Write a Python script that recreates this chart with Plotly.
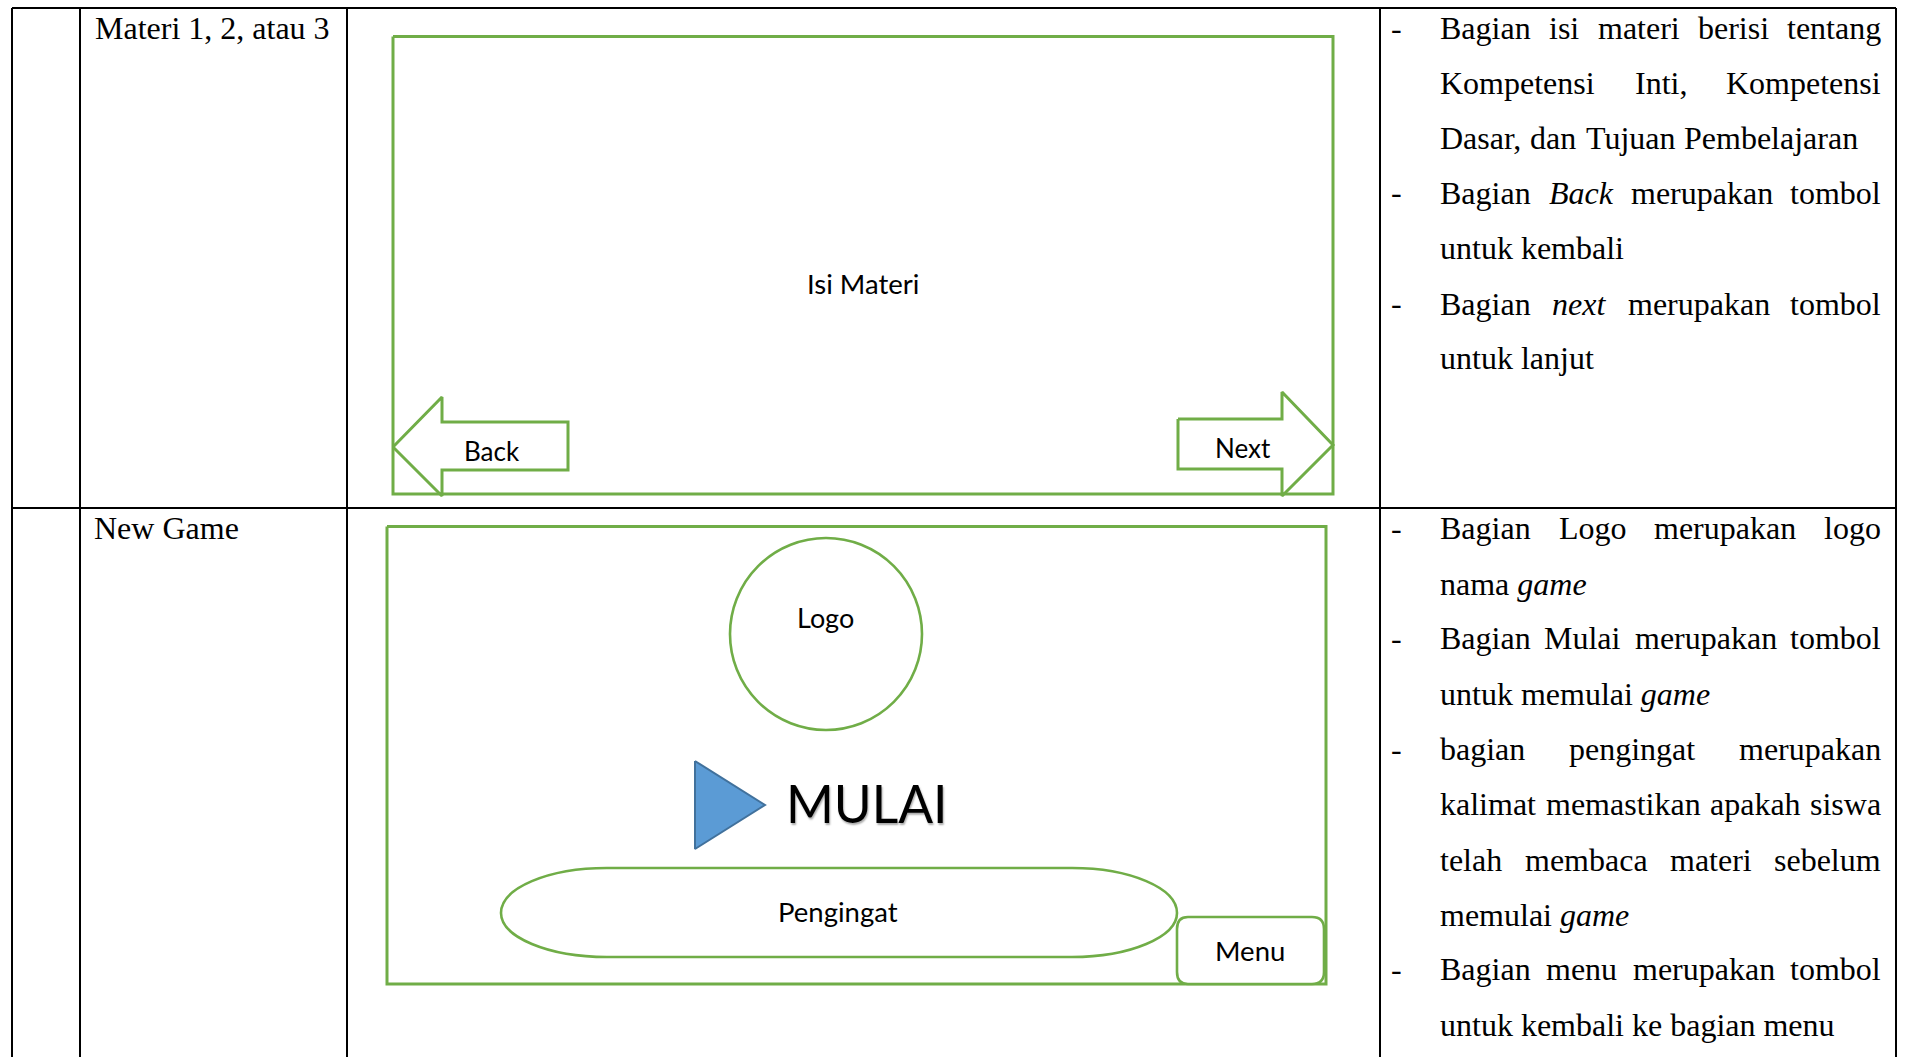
import plotly.graph_objects as go

BLACK = "#000000"
GREEN = "#70AD47"
SERIF = "Liberation Serif"
SANS = "Lato"

# table rules
table_cols = [12, 80, 347, 1380, 1896]
table_top = 8
table_row = 508
table_bottom = 1057

# wireframe outlines
frame_a = ([393, 1333, 1333, 393, 393], [36.5, 36.5, 494, 494, 36.5])
frame_b = ([387, 1326, 1326, 387, 387], [526.5, 526.5, 984, 984, 526.5])
back_arrow = ([393, 442, 442, 568, 568, 442, 442, 393], [447, 397, 422, 422, 470, 470, 496, 447])
next_arrow = ([1178, 1282, 1282, 1333, 1282, 1282, 1178, 1178], [419, 419, 392, 445, 496, 469, 469, 419])
play_triangle = ([695, 765, 695, 695], [761, 805, 849, 761])
logo_circle = (730, 538, 922, 730)
pill_path = "M 607 868 L 1072 868 C 1130 868 1177 888 1177 913 C 1177 937 1130 957 1072 957 L 607 957 C 548 957 501 937 501 913 C 501 888 548 868 607 868 Z"
menu_path = "M 1188 917 L 1312 917 Q 1324 917 1324 929 L 1324 972 Q 1324 984 1312 984 L 1188 984 Q 1177 984 1177 972 L 1177 929 Q 1177 917 1188 917 Z"

# labels inside the wireframes: text, x, y, size
sans_labels = [
    ("Isi Materi", 863, 283, 27.5),
    ("Back", 492, 451, 26),
    ("Next", 1243, 448, 26),
    ("Logo", 825, 617, 27),
    ("Pengingat", 838, 911, 27.5),
    ("Menu", 1250, 950, 27.5),
]
mulai_label = ("MULAI", 866, 803, 51.5)

# row titles
row_titles = [("Materi 1, 2, atau 3", 92.5, 27.5), ("New Game", 92, 528)]

# description column, line by line: y, then (x, anchor, word)
L = 1438
R = 1883
desc_lines = [
    (27.5, [(L, "left", "Bagian"), (1564, "center", "isi"), (1638.5, "center", "materi"), (1733.5, "center", "berisi"), (R, "right", "tentang")]),
    (82.5, [(L, "left", "Kompetensi"), (1660.6, "center", "Inti,"), (R, "right", "Kompetensi")]),
    (137.5, [(L, "left", "Dasar,"), (1553, "center", "dan"), (1631, "center", "Tujuan"), (1860, "right", "Pembelajaran")]),
    (192.5, [(L, "left", "Bagian"), (1581, "center", "<i>Back</i>"), (1701.6, "center", "merupakan"), (R, "right", "tombol")]),
    (247.5, [(L, "left", "untuk kembali")]),
    (303.5, [(L, "left", "Bagian"), (1579, "center", "<i>next</i>"), (1699, "center", "merupakan"), (R, "right", "tombol")]),
    (358, [(L, "left", "untuk lanjut")]),
    (528, [(L, "left", "Bagian"), (1592.5, "center", "Logo"), (1725, "center", "merupakan"), (R, "right", "logo")]),
    (583.5, [(L, "left", "nama <i>game</i>")]),
    (638, [(L, "left", "Bagian"), (1582, "center", "Mulai"), (1706, "center", "merupakan"), (R, "right", "tombol")]),
    (693.5, [(L, "left", "untuk memulai <i>game</i>")]),
    (749, [(L, "left", "bagian"), (1632, "center", "pengingat"), (R, "right", "merupakan")]),
    (803.5, [(L, "left", "kalimat"), (1623, "center", "memastikan"), (1755, "center", "apakah"), (R, "right", "siswa")]),
    (859.5, [(L, "left", "telah"), (1586, "center", "membaca"), (1711, "center", "materi"), (R, "right", "sebelum")]),
    (914.5, [(L, "left", "memulai <i>game</i>")]),
    (969, [(L, "left", "Bagian"), (1581.5, "center", "menu"), (1704, "center", "merupakan"), (R, "right", "tombol")]),
    (1024.5, [(L, "left", "untuk kembali ke bagian menu")]),
]
dash_ys = [27.5, 192, 303, 528, 638, 749, 969]
dash_x = 1396

fig = go.Figure()

for outline in (frame_a, frame_b, back_arrow, next_arrow):
    fig.add_trace(go.Scatter(x=outline[0], y=outline[1], mode="lines",
                             line=dict(color=GREEN, width=3), hoverinfo="skip"))
fig.add_trace(go.Scatter(x=play_triangle[0], y=play_triangle[1], mode="lines", fill="toself",
                         fillcolor="#5B9BD5", line=dict(color="#41719C", width=2), hoverinfo="skip"))

shapes = []
for x in table_cols:
    shapes.append(dict(type="line", x0=x, x1=x, y0=table_top, y1=table_bottom,
                       line=dict(color=BLACK, width=2)))
for y in (table_top, table_row):
    shapes.append(dict(type="line", x0=table_cols[0], x1=table_cols[-1], y0=y, y1=y,
                       line=dict(color=BLACK, width=2)))
shapes.append(dict(type="circle", x0=logo_circle[0], y0=logo_circle[1], x1=logo_circle[2], y1=logo_circle[3],
                   line=dict(color=GREEN, width=2.6)))
for p in (pill_path, menu_path):
    shapes.append(dict(type="path", path=p, line=dict(color=GREEN, width=2.6), fillcolor="white"))

ann = []
def text(x, y, s, anchor, family, size, **font):
    ann.append(dict(x=x, y=y, text=s, xanchor=anchor, yanchor="middle", showarrow=False,
                    font=dict(family=family, size=size, color=BLACK, **font), xref="x", yref="y"))

for s, x, y, size in sans_labels:
    text(x, y, s, "center", SANS, size)
text(mulai_label[1], mulai_label[2], mulai_label[0], "center", SANS, mulai_label[3], shadow="1px 2px 2px #aaaaaa")
for s, x, y in row_titles:
    text(x, y, s, "left", SERIF, 32)
for y, words in desc_lines:
    for x, anchor, w in words:
        text(x, y, w, anchor, SERIF, 32)
for y in dash_ys:
    text(dash_x, y, "-", "center", SERIF, 32)

fig.update_layout(
    width=1905, height=1057, margin=dict(l=0, r=0, t=0, b=0),
    paper_bgcolor="white", plot_bgcolor="white", showlegend=False,
    shapes=shapes, annotations=ann,
    xaxis=dict(range=[0, 1905], visible=False, fixedrange=True),
    yaxis=dict(range=[1057, 0], visible=False, fixedrange=True),
)
fig.write_html("out.html", config={"displayModeBar": False},
               post_script="document.body.style.margin='0';document.documentElement.style.overflow='hidden';")
